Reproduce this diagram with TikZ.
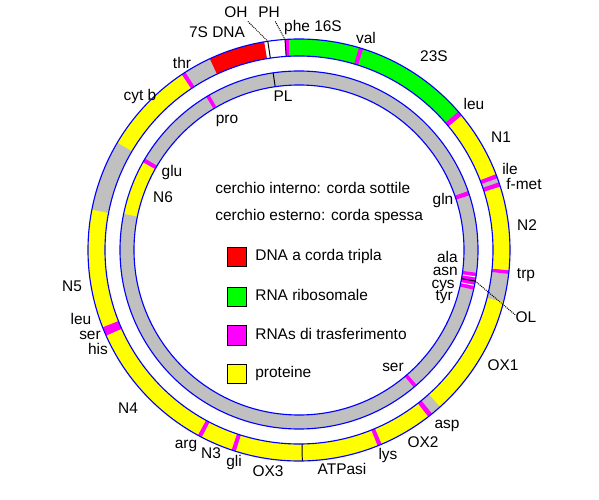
\documentclass[tikz,border=0pt]{standalone}
\usepackage{fontspec}
\setmainfont{Liberation Sans}
\usetikzlibrary{positioning}
\definecolor{silver}{RGB}{192,192,192}
\definecolor{dnared}{RGB}{255,0,0}
\definecolor{rrnagreen}{RGB}{0,255,0}
\definecolor{trnamag}{RGB}{255,0,255}
\definecolor{protyel}{RGB}{255,255,0}
\definecolor{ringblue}{RGB}{0,0,255}

\begin{document}
\begin{tikzpicture}[
    x=0.025cm, y=0.025cm,
    lbl/.style={
      font=\fontsize{11}{13}\selectfont,
      inner sep=0pt,
      text height=7.9pt,
      text depth=2.3pt
    },
    tight/.style={lbl, text height=6.8pt, text depth=1.8pt, anchor=east},
    legbox/.style={
      draw,
      line width=0.7pt,
      minimum size=0.48cm,
      inner sep=0pt
    },
    guide/.style={line width=0.7pt, dash pattern=on 0.7pt off 0.7pt}
  ]
  \useasboundingbox (-299,-250) rectangle (300,250);
  % base of both rings
  \fill[silver, even odd rule] (0,0) circle[radius=211] (0,0) circle[radius=194];
  \fill[silver, even odd rule] (0,0) circle[radius=179] (0,0) circle[radius=165];
  % outer ring: heavy strand
  \foreach \a/\b/\c in {41/92.8/rrnagreen, 72.3/73.5/trnamag, 92.8/93.8/trnamag,
      93.8/99.5/white, 99.5/115/dnared, 122.6/123.8/trnamag, 123.8/149.4/protyel,
      169/201.5/protyel, 201.5/204/trnamag, 204/241.4/protyel, 241.4/242.6/trnamag,
      242.6/251.4/protyel, 251.4/252.6/trnamag, 252.6/291.9/protyel,
      291.9/293.1/trnamag, 293.1/307.8/protyel, 307.8/309.1/trnamag,
      312/345.7/protyel, 353.5/354.5/trnamag, 354.5/377.5/protyel,
      377.5/378.7/trnamag, 379.9/381.1/trnamag, 381.1/399.6/protyel,
      399.6/401/trnamag}
    \fill[\c] (\a:194) arc[start angle=\a, end angle=\b, radius=194]
      -- (\b:211) arc[start angle=\b, end angle=\a, radius=211] -- cycle;
  % inner ring: light strand
  \foreach \a/\b/\c in {120/121.2/trnamag, 149.3/150.7/trnamag,
      150.7/168.3/protyel, 17.8/19.2/trnamag, 347.2/352.7/trnamag,
      309.9/311.1/trnamag}
    \fill[\c] (\a:165) arc[start angle=\a, end angle=\b, radius=165]
      -- (\b:179) arc[start angle=\b, end angle=\a, radius=179] -- cycle;
  \foreach \a/\c in {351.35/white, 348.6/white, 350/black, 98.3/black}
    \draw[\c, line width=0.7pt] (\a:165) -- (\a:179);
  \foreach \a in {93.8, 98.5, 270.9}
    \draw[line width=0.7pt] (\a:194) -- (\a:211);
  \foreach \r in {211, 194, 179, 165}
    \draw[ringblue, line width=0.8pt] (0,0) circle[radius=\r];

  % labels round the rings
  \node[lbl] (dna7s) at (-82,216) {7S DNA};
  \node[lbl] (oh) at (-63,236) {OH};
  \node[lbl] (ph) at (-30,236) {PH};
  \node[lbl] (phe) at (14,222) {phe 16S};
  \node[lbl] (val) at (67,210) {val};
  \node[lbl] (r23s) at (135,192) {23S};
  \node[lbl] (leuA) at (175,144) {leu};
  \node[lbl] (n1) at (202,111) {N1};
  \node[lbl] (ile) at (211,79) {ile};
  \node[lbl] (fmet) at (225,64) {f-met};
  \node[lbl] (gln) at (144,49) {gln};
  \node[lbl] (n2) at (228,23) {N2};
  \node[lbl] (trp) at (227,-25) {trp};
  \node[lbl] (ol) at (227,-69) {OL};
  \node[tight] (ala) at (159,-9) {ala};
  \node[tight] (asn) at (159,-22) {asn};
  \node[tight] (cys) at (156,-35) {cys};
  \node[tight] (tyr) at (154,-47) {tyr};
  \node[lbl] (ox1) at (204,-117) {OX1};
  \node[lbl] (serA) at (94,-118) {ser};
  \node[lbl] (asp) at (148,-175) {asp};
  \node[lbl] (ox2) at (124,-194) {OX2};
  \node[lbl] (lys) at (89,-206) {lys};
  \node[lbl] (atp) at (43,-221) {ATPasi};
  \node[lbl] (ox3) at (-31,-223) {OX3};
  \node[lbl] (gli) at (-65,-213) {gli};
  \node[lbl] (n3) at (-88,-205) {N3};
  \node[lbl] (arg) at (-113,-195) {arg};
  \node[lbl] (n4) at (-171,-160) {N4};
  \node[tight, anchor=center] (his) at (-201,-101) {his};
  \node[tight, anchor=center] (serB) at (-209,-86) {ser};
  \node[tight, anchor=center] (leuB) at (-218,-71) {leu};
  \node[lbl] (n5) at (-227,-38) {N5};
  \node[lbl] (n6) at (-136,51) {N6};
  \node[lbl] (glu) at (-127,77) {glu};
  \node[lbl] (pro) at (-72,130) {pro};
  \node[lbl] (pl) at (-16,152) {PL};
  \node[lbl] (cytb) at (-159,153) {cyt b};
  \node[lbl] (thr) at (-117,185) {thr};

  % origins
  \coordinate (ohpt) at (98.5:211);
  \coordinate (phpt) at (93.8:211);
  \coordinate (olpt) at (350:179);
  \draw[guide] (oh.south east) -- (ohpt);
  \draw[guide] ([xshift=-0.12cm]ph.south east) -- (phpt);
  \draw[guide] (olpt) -- ([yshift=0.1cm]ol.west);

  % legend
  \node[lbl, anchor=west] (inner) at (-84,60) {cerchio interno: corda sottile};
  \node[lbl, anchor=west] (outer) at (-84,33) {cerchio esterno: corda spessa};
  \node[legbox, fill=dnared] (kdna) at (-62,-7) {};
  \node[legbox, fill=rrnagreen] (krna) at (-62,-47) {};
  \node[legbox, fill=trnamag] (ktrna) at (-62,-85.5) {};
  \node[legbox, fill=protyel] (kprot) at (-62,-124) {};
  \node[lbl, right=0.2cm of kdna] {DNA a corda tripla};
  \node[lbl, right=0.2cm of krna] {RNA ribosomale};
  \node[lbl, right=0.2cm of ktrna] {RNAs di trasferimento};
  \node[lbl, right=0.2cm of kprot] {proteine};
\end{tikzpicture}
\end{document}
